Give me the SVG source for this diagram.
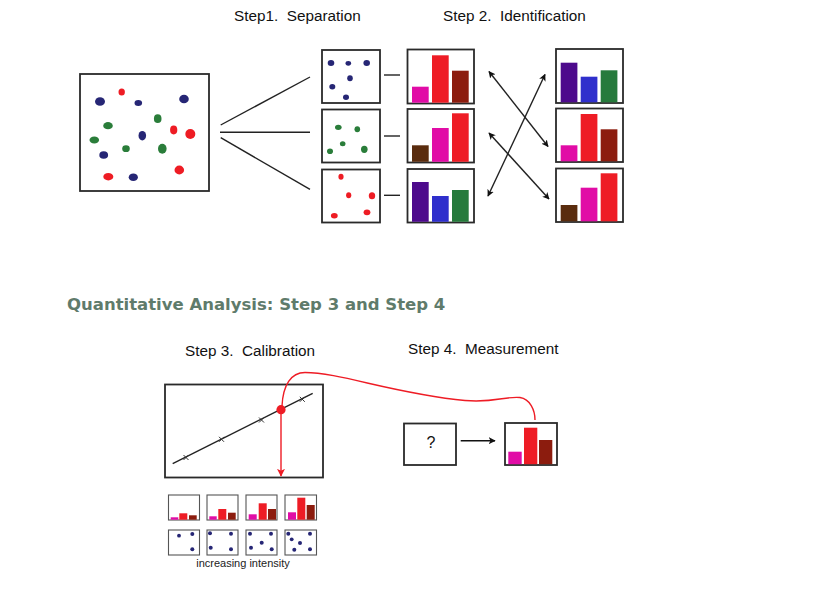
<svg xmlns="http://www.w3.org/2000/svg" width="838" height="598" viewBox="0 0 838 598">
<style>
.box{fill:#fff;stroke:#2a2a2a;stroke-width:1.8}
.sbox{fill:#fff;stroke:#555;stroke-width:1.1}
.lbl{font-family:"Liberation Sans",Arial,sans-serif;font-size:15.3px;fill:#111;white-space:pre}
.ttl{font-family:"DejaVu Sans",Verdana,sans-serif;font-size:16.5px;font-weight:bold;fill:#5f7b6b}
.m{fill:#e10ca6}.r{fill:#ee1c25}.dr{fill:#8c1c0e}.br{fill:#5a2c0e}.pu{fill:#4d0a8c}.bl{fill:#2f2fcc}.gr{fill:#267a3c}
.nv{fill:#262675}.gd{fill:#2a7d3a}.rd{fill:#ee1c24}
.ln{stroke:#222;stroke-width:1.4;fill:none}
.dl{stroke:#222;stroke-width:1.4;fill:none;marker-start:url(#ah);marker-end:url(#ah)}
</style>
<defs>
<marker id="ah" viewBox="0 0 10 10" refX="9" refY="5" markerWidth="7" markerHeight="7" markerUnits="userSpaceOnUse" orient="auto-start-reverse">
<path d="M0,0 L10,5 L0,10 L2.5,5 Z" fill="#111"/>
</marker>
<marker id="ahr" viewBox="0 0 10 10" refX="9" refY="5" markerWidth="8" markerHeight="8" markerUnits="userSpaceOnUse" orient="auto">
<path d="M0,0 L10,5 L0,10 L2.5,5 Z" fill="#ee1c25"/>
</marker>
</defs>
<rect width="838" height="598" fill="#fff"/>

<text class="lbl" x="234" y="21" xml:space="preserve">Step1.  Separation</text>
<text class="lbl" x="443" y="21" xml:space="preserve">Step 2.  Identification</text>

<g id="mixture">
<rect class="box" x="80" y="74" width="129" height="117"/>
<ellipse class="nv" cx="100" cy="101.5" rx="5" ry="4.3"/>
<ellipse class="rd" cx="121.7" cy="92" rx="3.2" ry="3.6"/>
<ellipse class="nv" cx="138.3" cy="103" rx="3.8" ry="3"/>
<ellipse class="nv" cx="184" cy="99" rx="4.8" ry="4.3"/>
<ellipse class="gd" cx="108" cy="125.7" rx="4.8" ry="3.6"/>
<ellipse class="gd" cx="157.7" cy="118.7" rx="3.8" ry="4.4"/>
<ellipse class="rd" cx="173.7" cy="130" rx="3.6" ry="4.4"/>
<ellipse class="rd" cx="190.3" cy="134" rx="5" ry="5"/>
<ellipse class="nv" cx="142.3" cy="135.7" rx="3.8" ry="4.8"/>
<ellipse class="gd" cx="94.3" cy="140" rx="4.8" ry="3.5"/>
<ellipse class="gd" cx="126" cy="148.7" rx="3.8" ry="3.4"/>
<ellipse class="gd" cx="162.3" cy="148.7" rx="4.3" ry="5"/>
<ellipse class="nv" cx="103.7" cy="155" rx="4.4" ry="3.8"/>
<ellipse class="rd" cx="108.3" cy="176.7" rx="5" ry="3.7"/>
<ellipse class="nv" cx="133.3" cy="177.3" rx="4.6" ry="3.8"/>
<ellipse class="rd" cx="179.3" cy="170" rx="4.8" ry="4.4"/>
</g>

<g id="sep-blue">
<rect class="box" x="322" y="50" width="58" height="53"/>
<ellipse class="nv" cx="331" cy="63" rx="3.3" ry="3"/>
<ellipse class="nv" cx="348.3" cy="63.3" rx="2.8" ry="2.4"/>
<ellipse class="nv" cx="366.7" cy="63" rx="3.3" ry="3"/>
<ellipse class="nv" cx="350" cy="78.3" rx="2.8" ry="3"/>
<ellipse class="nv" cx="332.3" cy="86.7" rx="3" ry="2.7"/>
<ellipse class="nv" cx="346" cy="97.3" rx="3" ry="2.7"/>
</g>
<g id="sep-green">
<rect class="box" x="322" y="109.5" width="58" height="53"/>
<ellipse class="gd" cx="338.3" cy="127.3" rx="3.3" ry="2.6"/>
<ellipse class="gd" cx="357.3" cy="129.3" rx="2.8" ry="3"/>
<ellipse class="gd" cx="342.7" cy="143.7" rx="2.8" ry="2.5"/>
<ellipse class="gd" cx="330" cy="151.3" rx="3" ry="2.8"/>
<ellipse class="gd" cx="364.3" cy="149.3" rx="3.3" ry="3.6"/>
</g>
<g id="sep-red">
<rect class="box" x="322" y="169.5" width="58" height="53"/>
<ellipse class="rd" cx="341" cy="176.7" rx="2.6" ry="3"/>
<ellipse class="rd" cx="348.7" cy="195.3" rx="2.6" ry="3"/>
<ellipse class="rd" cx="372" cy="195.7" rx="3.2" ry="3.5"/>
<ellipse class="rd" cx="334.3" cy="215.7" rx="3.4" ry="2.7"/>
<ellipse class="rd" cx="367" cy="212.3" rx="3.4" ry="2.9"/>
</g>

<g id="chart-l1">
<rect class="box" x="407.5" y="49.5" width="66.5" height="54"/>
<rect class="m" x="412" y="86.7" width="16.7" height="16"/>
<rect class="r" x="432" y="55.3" width="16.7" height="47.4"/>
<rect class="dr" x="452" y="70.7" width="16.7" height="32"/>
</g>
<g id="chart-l2">
<rect class="box" x="407.5" y="109" width="66.5" height="53.5"/>
<rect class="br" x="412" y="145.3" width="16.7" height="16.5"/>
<rect class="m" x="432" y="128" width="16.7" height="33.8"/>
<rect class="r" x="452" y="113.3" width="16.7" height="48.5"/>
</g>
<g id="chart-l3">
<rect class="box" x="407.5" y="169" width="66.5" height="53.5"/>
<rect class="pu" x="412" y="182" width="16.7" height="39.8"/>
<rect class="bl" x="432" y="196" width="16.7" height="25.8"/>
<rect class="gr" x="452" y="190" width="16.7" height="31.8"/>
</g>

<g id="chart-r1">
<rect class="box" x="556" y="49" width="67" height="54"/>
<rect class="pu" x="560.7" y="62.7" width="16.7" height="39.6"/>
<rect class="bl" x="580.7" y="76.7" width="16.7" height="25.6"/>
<rect class="gr" x="600.7" y="70.3" width="16.7" height="32"/>
</g>
<g id="chart-r2">
<rect class="box" x="556" y="108.5" width="67" height="53.5"/>
<rect class="m" x="560.7" y="145.3" width="16.7" height="16"/>
<rect class="r" x="580.7" y="114" width="16.7" height="47.3"/>
<rect class="dr" x="600.7" y="129.3" width="16.7" height="32"/>
</g>
<g id="chart-r3">
<rect class="box" x="556" y="168.5" width="67" height="53.5"/>
<rect class="br" x="560.7" y="205" width="16.7" height="16.3"/>
<rect class="m" x="580.7" y="187.7" width="16.7" height="33.6"/>
<rect class="r" x="600.7" y="173.3" width="16.7" height="48"/>
</g>

<text class="ttl" x="67" y="310">Quantitative Analysis: Step 3 and Step 4</text>
<text class="lbl" x="185" y="356" xml:space="preserve">Step 3.  Calibration</text>
<text class="lbl" x="408" y="354" xml:space="preserve">Step 4.  Measurement</text>

<g id="calibration">
<rect class="box" x="165" y="384.5" width="158" height="93"/>
<line class="ln" x1="172.7" y1="463.7" x2="312.7" y2="393.3"/>
<g stroke="#333" stroke-width="1" fill="none">
<path d="M183.5,455 l5,5 M188.5,455 l-5,5"/>
<path d="M219,436.8 l5,5 M224,436.8 l-5,5"/>
<path d="M259,417.5 l5,5 M264,417.5 l-5,5"/>
<path d="M299.8,396.8 l5,5 M304.8,396.8 l-5,5"/>
</g>
</g>

<g id="unknown">
<rect class="box" x="404" y="423.5" width="52" height="41.5"/>
<text x="431" y="448" font-family="'Liberation Sans',Arial,sans-serif" font-size="16" text-anchor="middle" fill="#111">?</text>
</g>
<g id="measured">
<rect class="box" x="505" y="423" width="52" height="42"/>
<rect class="m" x="508.3" y="451.7" width="13.4" height="12.5"/>
<rect class="r" x="524" y="427.7" width="13.3" height="36.5"/>
<rect class="dr" x="539" y="440" width="13.3" height="24.2"/>
</g>

<g id="standards">
<rect class="sbox" x="168.5" y="495" width="31" height="25"/>
<rect class="m" x="170.7" y="517.3" width="7.6" height="2.4"/>
<rect class="r" x="179.3" y="513.3" width="8" height="6.4"/>
<rect class="dr" x="189" y="515.3" width="7.7" height="4.4"/>
<rect class="sbox" x="207" y="495" width="31" height="25"/>
<rect class="m" x="209.3" y="516.3" width="7.4" height="3.4"/>
<rect class="r" x="218.3" y="509" width="8" height="10.7"/>
<rect class="dr" x="228" y="512.7" width="7.7" height="7"/>
<rect class="sbox" x="246" y="495" width="31" height="25"/>
<rect class="m" x="248.7" y="514.3" width="8" height="5.4"/>
<rect class="r" x="258.7" y="503.3" width="8" height="16.4"/>
<rect class="dr" x="268" y="509" width="8" height="10.7"/>
<rect class="sbox" x="285" y="495" width="31.5" height="25"/>
<rect class="m" x="288" y="512.3" width="8" height="7.4"/>
<rect class="r" x="297.3" y="497.7" width="8" height="22"/>
<rect class="dr" x="306.7" y="505" width="8" height="14.7"/>

<rect class="sbox" x="168.5" y="530" width="31" height="25"/>
<circle class="nv" cx="179" cy="535.7" r="1.9"/>
<circle class="nv" cx="192.3" cy="534" r="2"/>
<circle class="nv" cx="192.3" cy="549.3" r="2"/>
<rect class="sbox" x="207" y="530" width="31" height="25"/>
<circle class="nv" cx="210" cy="533.3" r="2"/>
<circle class="nv" cx="231" cy="533.7" r="2"/>
<circle class="nv" cx="210.7" cy="547.7" r="2"/>
<circle class="nv" cx="231" cy="549.3" r="2"/>
<rect class="sbox" x="246" y="530" width="31" height="25"/>
<circle class="nv" cx="250" cy="533.7" r="2"/>
<circle class="nv" cx="271" cy="533.7" r="2"/>
<circle class="nv" cx="261.7" cy="542.7" r="2"/>
<circle class="nv" cx="251" cy="547.7" r="2"/>
<circle class="nv" cx="271.7" cy="549.3" r="2"/>
<rect class="sbox" x="285" y="530" width="31.5" height="25"/>
<circle class="nv" cx="288.3" cy="533.7" r="2"/>
<circle class="nv" cx="310" cy="533.7" r="2"/>
<circle class="nv" cx="291.7" cy="539.3" r="1.9"/>
<circle class="nv" cx="300" cy="543" r="2"/>
<circle class="nv" cx="294.3" cy="549.7" r="2"/>
<circle class="nv" cx="310" cy="549.3" r="2"/>
<text x="243" y="567" font-family="'Liberation Sans',Arial,sans-serif" font-size="11" text-anchor="middle" fill="#222">increasing intensity</text>
</g>

<g id="connectors">
<line class="ln" x1="220.7" y1="125" x2="310" y2="77"/>
<line class="ln" x1="220" y1="132.3" x2="310" y2="132.3"/>
<line class="ln" x1="220.7" y1="137.7" x2="310" y2="189.3"/>
<line class="ln" x1="384" y1="75" x2="400" y2="75"/>
<line class="ln" x1="384" y1="136" x2="400" y2="136"/>
<line class="ln" x1="384" y1="195.3" x2="400" y2="195.3"/>
<line class="dl" x1="489" y1="71.5" x2="548" y2="146.5"/>
<line class="dl" x1="545" y1="74.5" x2="488" y2="196"/>
<line class="dl" x1="489" y1="133" x2="549" y2="199"/>
<line x1="281" y1="410" x2="281" y2="476" stroke="#ee1c25" stroke-width="1.4" marker-end="url(#ahr)"/>
<path d="M282,406 C283,385 291,372.5 305,372.5 C340,372.5 395,394 465,400.5 C495,403 505,396 520,397.5 C530,399 535,410 535,420" fill="none" stroke="#ee1c25" stroke-width="1.4"/>
<circle cx="281" cy="409.7" r="4.6" fill="#ee1c25"/>
<line x1="460.7" y1="440.7" x2="495" y2="440.7" stroke="#111" stroke-width="1.4" marker-end="url(#ah)"/>
</g>
</svg>
